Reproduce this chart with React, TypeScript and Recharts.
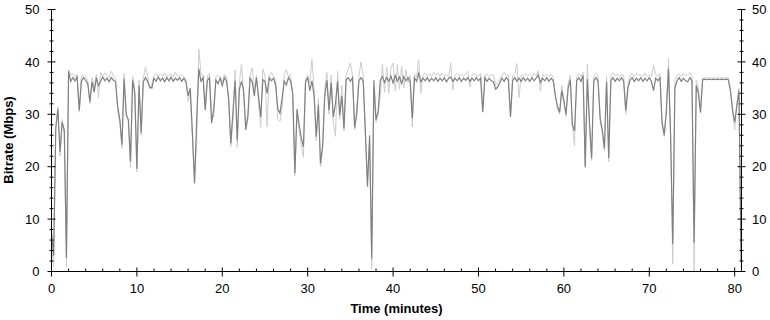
import { LineChart, Line, XAxis, YAxis } from 'recharts';

const FONT = '"Liberation Sans", Arial, Helvetica, sans-serif';
const AXIS_COLOR = '#000000';

// one sample every quarter minute, starting at 0
const SAMPLE_STEP_MIN = 0.25;

// dark trace (Mbps), 20 samples = 5 minutes per row
const mainRate = [
  7.5, 3.0, 27.3, 31.0, 22.8, 28.5, 27.0, 2.6, 38.2, 36.3, 37.0, 36.4, 37.1, 30.8, 36.3, 37.0, 36.5, 35.8, 32.4, 36.2,
  34.2, 37.0, 35.5, 36.3, 37.1, 36.4, 36.9, 36.2, 37.0, 36.5, 36.2, 31.5, 29.0, 24.2, 36.8, 29.8, 29.0, 21.0, 36.5, 34.0,
  19.6, 35.5, 26.5, 36.2, 37.0, 36.3, 35.2, 35.0, 36.9, 36.3, 37.1, 36.4, 36.9, 36.2, 37.0, 36.4, 37.1, 36.3, 36.9, 36.5,
  37.0, 36.3, 36.9, 36.1, 33.5, 35.0, 26.5, 16.8, 29.0, 38.7, 36.3, 37.0, 30.8, 36.4, 37.0, 28.3, 31.0, 36.5, 35.8, 36.9,
  35.5, 37.0, 36.3, 33.0, 24.5, 30.5, 36.4, 25.0, 34.8, 36.3, 34.5, 27.0, 29.5, 36.9, 36.2, 33.5, 37.0, 33.4, 29.5, 36.6,
  36.3, 34.0, 37.0, 36.4, 36.9, 35.5, 31.0, 30.2, 33.0, 36.3, 35.6, 37.0, 36.3, 34.0, 18.8, 31.0, 28.0, 25.5, 23.8, 36.2,
  37.0, 34.5, 36.4, 33.5, 25.7, 31.8, 20.6, 24.0, 33.5, 36.5, 30.8, 36.0, 29.5, 32.0, 36.3, 29.8, 33.5, 27.3, 36.6, 37.0,
  36.3, 37.0, 27.5, 30.0, 36.4, 37.0, 36.3, 27.0, 16.2, 26.0, 2.5, 36.5, 29.0, 30.5, 36.5, 37.2, 36.1, 37.0, 36.3, 37.3,
  36.0, 37.4, 36.3, 37.1, 35.9, 37.2, 36.4, 37.0, 36.3, 29.2, 37.0, 36.3, 37.8, 36.2, 36.9, 36.4, 37.0, 36.3, 36.9, 36.4,
  37.0, 36.3, 36.9, 36.4, 37.0, 36.2, 36.9, 37.1, 36.3, 36.9, 36.4, 37.0, 36.3, 36.9, 36.5, 37.0, 36.3, 36.9, 36.4, 37.0,
  36.4, 36.9, 30.4, 37.0, 36.3, 36.9, 36.4, 36.2, 34.8, 35.2, 36.0, 36.9, 36.3, 37.0, 36.5, 29.5, 36.4, 37.0, 36.3, 36.9,
  36.3, 37.0, 36.4, 36.9, 36.3, 37.0, 36.4, 36.9, 37.5, 36.1, 36.9, 36.4, 37.0, 36.3, 36.9, 36.4, 33.5, 31.5, 30.4, 34.5,
  32.5, 30.0, 35.0, 36.6, 28.0, 26.8, 36.4, 37.0, 36.3, 37.4, 20.0, 36.7, 28.5, 21.6, 36.4, 37.0, 36.3, 29.2, 27.0, 23.5,
  36.2, 21.6, 36.4, 37.0, 36.3, 36.9, 36.4, 37.0, 36.3, 30.7, 35.0, 36.5, 37.0, 36.3, 36.9, 36.4, 37.0, 36.3, 36.9, 36.4,
  37.0, 36.3, 34.5, 36.9, 36.4, 37.0, 28.5, 26.0, 30.5, 38.7, 25.8, 5.2, 35.0, 36.4, 37.0, 36.3, 36.9, 36.4, 36.2, 37.0,
  36.4, 5.5, 35.5, 34.0, 30.3, 36.6, 36.7, 36.6, 36.7, 36.6, 36.7, 36.6, 36.7, 36.6, 36.7, 36.6, 36.7, 36.6, 34.5, 30.8,
  28.5, 31.5, 34.5, 2.0,
];

// light trace (Mbps), same sampling
const fineRate = [
  5.5, 1.0, 27.8, 31.4, 22.0, 29.0, 26.0, 0.8, 38.5, 37.5, 37.8, 37.0, 37.6, 30.4, 37.3, 37.4, 37.2, 36.5, 32.0, 37.0,
  35.0, 37.6, 33.2, 38.0, 37.3, 37.9, 37.5, 37.0, 38.2, 37.4, 36.8, 30.5, 28.5, 23.5, 37.8, 30.5, 28.6, 19.8, 37.2, 35.0,
  19.0, 36.5, 26.0, 37.0, 39.0, 37.5, 34.8, 35.8, 37.4, 37.8, 37.2, 37.6, 37.3, 37.9, 37.1, 37.5, 37.7, 37.2, 38.0, 37.3,
  37.4, 37.6, 37.2, 36.8, 32.5, 34.0, 25.5, 17.5, 24.5, 42.5, 37.8, 37.5, 31.5, 37.3, 37.8, 30.0, 29.5, 37.2, 37.4, 37.0,
  36.2, 37.6, 37.3, 32.0, 23.8, 29.0, 38.5, 23.7, 36.0, 39.6, 33.8, 27.5, 30.5, 37.4, 38.8, 34.5, 37.5, 32.0, 27.5, 38.7,
  37.3, 27.6, 37.6, 38.0, 37.2, 36.5, 29.0, 28.6, 31.0, 37.8, 38.5, 37.2, 37.6, 33.5, 18.3, 30.0, 27.0, 24.0, 21.8, 37.0,
  37.4, 36.0, 40.5, 34.8, 25.0, 33.0, 20.0, 23.5, 35.0, 38.0, 30.0, 37.5, 28.5, 25.8, 38.2, 29.0, 35.5, 26.8, 37.4, 38.6,
  39.8, 37.4, 27.0, 31.5, 37.3, 40.0, 37.5, 26.0, 17.0, 25.0, 0.5, 35.0, 28.5, 30.0, 33.5, 39.5, 34.2, 39.0, 34.0, 38.8,
  39.8, 34.5, 39.5, 34.8, 39.2, 35.0, 38.5, 36.0, 37.4, 27.6, 37.6, 37.2, 40.3, 34.0, 37.5, 37.9, 37.3, 37.7, 37.2, 38.0,
  37.5, 37.9, 37.2, 37.8, 37.3, 37.6, 37.1, 39.8, 34.6, 37.5, 37.8, 37.3, 37.7, 37.2, 37.6, 38.2, 35.2, 37.5, 37.8, 37.3,
  37.4, 37.8, 30.8, 37.3, 37.7, 37.2, 37.6, 37.5, 35.5, 36.0, 36.8, 37.4, 38.0, 37.3, 37.6, 29.8, 37.4, 37.7, 39.7, 33.2,
  37.5, 37.2, 37.8, 37.3, 37.6, 37.2, 37.8, 37.4, 38.3, 34.4, 37.6, 37.3, 37.7, 37.2, 37.6, 37.0, 34.0, 31.0, 30.0, 35.5,
  33.0, 29.5, 36.0, 37.4, 27.5, 24.0, 37.3, 37.7, 37.2, 38.0, 19.8, 39.6, 27.0, 21.2, 37.4, 37.8, 37.3, 28.8, 26.2, 23.0,
  37.2, 21.0, 37.4, 37.9, 37.3, 37.7, 37.2, 37.6, 37.4, 30.0, 35.8, 37.4, 37.7, 37.2, 37.8, 37.4, 37.6, 37.2, 37.9, 37.3,
  37.5, 37.2, 39.4, 37.6, 37.3, 37.8, 28.0, 25.8, 31.0, 40.6, 26.0, 1.4, 36.5, 37.4, 37.7, 37.2, 37.8, 37.3, 37.6, 37.9,
  37.4, 0.0, 36.5, 35.0, 31.0, 37.0, 36.9, 37.0, 36.9, 37.0, 36.9, 37.0, 36.9, 37.0, 36.9, 37.0, 36.9, 37.0, 35.0, 31.0,
  27.0, 32.0, 35.0, 0.5,
];

const xTicks = [0, 2, 4, 6, 8, 10, 12, 14, 16, 18, 20, 22, 24, 26, 28, 30, 32, 34, 36, 38, 40,
  42, 44, 46, 48, 50, 52, 54, 56, 58, 60, 62, 64, 66, 68, 70, 72, 74, 76, 78, 80];
const yTicks = [0, 2, 4, 6, 8, 10, 12, 14, 16, 18, 20, 22, 24, 26, 28, 30, 32, 34, 36, 38, 40,
  42, 44, 46, 48, 50];

const chartData = mainRate.map((v, i) => ({
  minute: i * SAMPLE_STEP_MIN,
  main: v,
  fine: fineRate[i],
}));

const isMajor = (v: number) => v % 10 === 0;

const BottomTick = ({ x, y, payload }: any) => {
  const major = isMajor(payload.value);
  return (
    <g>
      <line x1={x} x2={x} y1={y - (major ? 4 : 3)} y2={y + (major ? 5 : 0)} stroke={AXIS_COLOR} />
      {major && (
        <text x={x} y={y + 21.5} textAnchor="middle" fontFamily={FONT} fontSize={13} fill="#000">
          {payload.value}
        </text>
      )}
    </g>
  );
};

const TopTick = ({ x, y, payload }: any) => {
  const major = isMajor(payload.value);
  return <line x1={x} x2={x} y1={y} y2={y + (major ? 5 : 3)} stroke={AXIS_COLOR} />;
};

const LeftTick = ({ x, y, payload }: any) => {
  const major = isMajor(payload.value);
  const len = major ? 4 : 2;
  return (
    <g>
      <line x1={x - len} x2={x + len} y1={y} y2={y} stroke={AXIS_COLOR} />
      {major && (
        <text x={x - 12} y={y + 4.6} textAnchor="end" fontFamily={FONT} fontSize={13} fill="#000">
          {payload.value}
        </text>
      )}
    </g>
  );
};

const RightTick = ({ x, y, payload }: any) => {
  const major = isMajor(payload.value);
  const len = major ? 4 : 2;
  return (
    <g>
      <line x1={x - len} x2={x + len} y1={y} y2={y} stroke={AXIS_COLOR} />
      {major && (
        <text x={x + 10.5} y={y + 4.6} textAnchor="start" fontFamily={FONT} fontSize={13} fill="#000">
          {payload.value}
        </text>
      )}
    </g>
  );
};

export default function App() {
  return (
    <div style={{ position: 'absolute', left: 0, top: 0, width: 770, height: 320, background: '#fff' }}>
      <LineChart
        width={770}
        height={320}
        data={chartData}
        margin={{ top: 9.5, right: 0, bottom: 0, left: 0 }}
      >
        <XAxis
          xAxisId="bottom"
          dataKey="minute"
          type="number"
          domain={[0, 80.8]}
          allowDataOverflow
          ticks={xTicks}
          interval={0}
          height={48.5}
          tickSize={0}
          tickMargin={0}
          tickLine={false}
          axisLine={{ stroke: AXIS_COLOR }}
          tick={<BottomTick />}
        />
        <XAxis
          xAxisId="top"
          orientation="top"
          dataKey="minute"
          type="number"
          domain={[0, 80.8]}
          allowDataOverflow
          ticks={xTicks}
          interval={0}
          height={0}
          tickSize={0}
          tickMargin={0}
          tickLine={false}
          axisLine={{ stroke: AXIS_COLOR }}
          tick={<TopTick />}
        />
        <YAxis
          yAxisId="left"
          type="number"
          domain={[0, 50]}
          allowDataOverflow
          ticks={yTicks}
          interval={0}
          width={51.5}
          tickSize={0}
          tickMargin={0}
          tickLine={false}
          axisLine={{ stroke: AXIS_COLOR }}
          tick={<LeftTick />}
        />
        <YAxis
          yAxisId="right"
          orientation="right"
          type="number"
          domain={[0, 50]}
          allowDataOverflow
          ticks={yTicks}
          interval={0}
          width={28.5}
          tickSize={0}
          tickMargin={0}
          tickLine={false}
          axisLine={{ stroke: AXIS_COLOR }}
          tick={<RightTick />}
        />
        <Line
          xAxisId="bottom"
          yAxisId="left"
          type="linear"
          dataKey="fine"
          stroke="#cccccc"
          strokeWidth={1}
          dot={false}
          isAnimationActive={false}
        />
        <Line
          xAxisId="bottom"
          yAxisId="left"
          type="linear"
          dataKey="main"
          stroke="#808080"
          strokeWidth={1.2}
          dot={false}
          isAnimationActive={false}
        />
      </LineChart>
      <svg
        width={770}
        height={320}
        style={{ position: 'absolute', left: 0, top: 0, pointerEvents: 'none' }}
      >
        <text x={396.5} y={312.5} textAnchor="middle" fontFamily={FONT} fontSize={13} fontWeight="bold" fill="#000">
          Time (minutes)
        </text>
        <text
          x={13}
          y={140}
          transform="rotate(-90, 13, 140)"
          textAnchor="middle"
          fontFamily={FONT}
          fontSize={13}
          fontWeight="bold"
          fill="#000"
        >
          Bitrate (Mbps)
        </text>
      </svg>
    </div>
  );
}
